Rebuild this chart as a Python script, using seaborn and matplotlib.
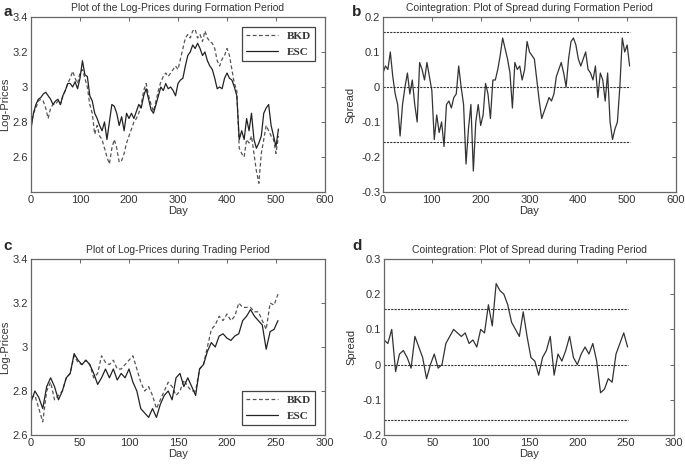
import numpy as np
import pandas as pd
import seaborn as sns
import matplotlib.pyplot as plt
from matplotlib.ticker import FormatStrFormatter

# formation period, read every 5 days
bkd_form = [2.78, 2.85, 2.88, 2.92, 2.93, 2.92, 2.88, 2.82, 2.88, 2.90,
            2.90, 2.92, 2.90, 2.95, 2.98, 3.02, 3.05, 3.09, 3.05, 3.02,
            3.08, 3.10, 3.05, 3.00, 2.90, 2.85, 2.73, 2.78, 2.72, 2.70,
            2.65, 2.60, 2.56, 2.65, 2.70, 2.65, 2.57, 2.58, 2.62, 2.68,
            2.72, 2.76, 2.80, 2.82, 2.85, 2.90, 2.98, 3.02, 2.95, 2.90,
            2.86, 2.92, 2.98, 3.03, 3.06, 3.08, 3.06, 3.08, 3.10, 3.12,
            3.10, 3.16, 3.22, 3.28, 3.30, 3.28, 3.32, 3.33, 3.28, 3.30,
            3.26, 3.32, 3.28, 3.26, 3.25, 3.22, 3.15, 3.12, 3.16, 3.18,
            3.22, 3.18, 3.10, 3.02, 2.98, 2.65, 2.62, 2.60, 2.70, 2.68,
            2.72, 2.62, 2.52, 2.45, 2.62, 2.70, 2.78, 2.75, 2.72, 2.70,
            2.62, 2.72]
esc_form = [2.76, 2.85, 2.90, 2.93, 2.94, 2.96, 2.97, 2.95, 2.93, 2.90,
            2.92, 2.93, 2.90, 2.95, 2.98, 3.02, 3.02, 3.00, 3.03, 2.99,
            3.05, 3.15, 3.07, 3.06, 2.95, 2.92, 2.85, 2.82, 2.78, 2.75,
            2.80, 2.70, 2.80, 2.90, 2.89, 2.85, 2.78, 2.83, 2.75, 2.85,
            2.82, 2.85, 2.82, 2.86, 2.90, 2.88, 2.95, 2.99, 2.93, 2.87,
            2.85, 2.90, 2.95, 3.00, 2.98, 3.02, 2.99, 3.00, 2.98, 2.95,
            3.02, 3.04, 3.05, 3.12, 3.18, 3.20, 3.24, 3.22, 3.25, 3.22,
            3.18, 3.20, 3.15, 3.12, 3.10, 3.05, 2.99, 3.00, 2.99, 3.05,
            3.08, 3.05, 3.04, 3.00, 2.95, 2.70, 2.75, 2.70, 2.82, 2.75,
            2.85, 2.70, 2.65, 2.68, 2.72, 2.85, 2.88, 2.90, 2.78, 2.72,
            2.66, 2.76]
spread_form = [0.04, 0.06, 0.05, 0.10, 0.03, -0.02, -0.05, -0.14, -0.05, 0.00,
               0.04, -0.02, 0.02, -0.05, -0.10, 0.07, 0.05, 0.02, 0.07, 0.03,
               -0.01, -0.15, -0.08, -0.13, -0.10, -0.17, -0.05, -0.04, -0.06, -0.03,
               -0.02, 0.06, 0.00, -0.05, -0.22, -0.12, -0.05, -0.24, -0.10, -0.05,
               -0.11, -0.08, 0.01, -0.02, -0.09, 0.02, 0.02, 0.05, 0.09, 0.14,
               0.11, 0.08, 0.04, -0.06, 0.07, 0.05, 0.06, 0.02, 0.05, 0.13,
               0.10, 0.09, 0.08, 0.02, -0.04, -0.09, -0.07, -0.05, -0.03, -0.04,
               -0.02, 0.03, 0.05, 0.07, 0.04, 0.00, 0.08, 0.13, 0.14, 0.12,
               0.08, 0.06, 0.08, 0.10, 0.05, 0.04, 0.02, 0.06, -0.03, 0.04,
               0.02, -0.04, 0.04, -0.10, -0.15, -0.12, -0.10, 0.00, 0.14, 0.10,
               0.12, 0.06]

# trading period, read every 4 days
bkd_trade = [2.77, 2.78, 2.72, 2.66, 2.80, 2.84, 2.76, 2.78, 2.80, 2.86,
             2.88, 2.96, 2.93, 2.92, 2.94, 2.92, 2.86, 2.88, 2.96, 2.93,
             2.92, 2.94, 2.90, 2.90, 2.92, 2.94, 2.96, 2.90, 2.84, 2.80,
             2.82, 2.78, 2.72, 2.76, 2.80, 2.84, 2.82, 2.78, 2.80, 2.85,
             2.82, 2.80, 2.80, 2.90, 2.92, 3.00, 3.08, 3.10, 3.14, 3.12,
             3.15, 3.12, 3.14, 3.20, 3.18, 3.18, 3.18, 3.16, 3.16, 3.12,
             3.08, 3.20, 3.19, 3.24]
esc_trade = [2.75, 2.80, 2.77, 2.72, 2.82, 2.86, 2.82, 2.76, 2.80, 2.86,
             2.88, 2.97, 2.94, 2.92, 2.94, 2.92, 2.88, 2.83, 2.86, 2.90,
             2.86, 2.90, 2.85, 2.88, 2.86, 2.90, 2.84, 2.80, 2.72, 2.70,
             2.68, 2.72, 2.68, 2.74, 2.78, 2.80, 2.76, 2.86, 2.88, 2.82,
             2.86, 2.82, 2.78, 2.90, 2.92, 2.98, 3.02, 3.00, 3.05, 3.06,
             3.04, 3.03, 3.05, 3.06, 3.12, 3.14, 3.17, 3.14, 3.12, 3.10,
             2.99, 3.07, 3.08, 3.12]
spread_trade = [0.07, 0.06, 0.10, -0.02, 0.03, 0.04, 0.02, -0.01, 0.08, 0.05,
                0.02, -0.04, 0.00, 0.03, -0.01, 0.00, 0.06, 0.08, 0.10, 0.09,
                0.08, 0.09, 0.06, 0.07, 0.05, 0.10, 0.09, 0.17, 0.11, 0.23,
                0.21, 0.20, 0.17, 0.12, 0.10, 0.08, 0.15, 0.08, 0.02, 0.01,
                -0.03, 0.02, 0.04, 0.08, -0.03, 0.03, 0.01, 0.04, 0.08, 0.02,
                0.00, 0.03, 0.05, 0.03, 0.06, 0.01, -0.08, -0.07, -0.04, -0.05,
                0.03, 0.06, 0.09, 0.05]

thresholds = [0.157, 0.0, -0.157]

form = pd.DataFrame({'Day': np.arange(len(esc_form)) * 5, 'BKD': bkd_form,
                     'ESC': esc_form, 'Spread': spread_form})
trade = pd.DataFrame({'Day': np.arange(len(esc_trade)) * 4, 'BKD': bkd_trade,
                      'ESC': esc_trade, 'Spread': spread_trade})

sns.set_style('white')
plt.rcParams['font.family'] = ['Liberation Sans', 'DejaVu Sans']
plt.rcParams['font.size'] = 8
plt.rcParams['axes.edgecolor'] = '#666666'
plt.rcParams['axes.linewidth'] = 0.9

fig = plt.figure(figsize=(6.85, 4.65), dpi=100)
ax_a = fig.add_axes([31 / 685, 1 - 192 / 465, 294 / 685, 175 / 465])
ax_b = fig.add_axes([383 / 685, 1 - 192 / 465, 293 / 685, 175 / 465])
ax_c = fig.add_axes([31 / 685, 1 - 435 / 465, 294 / 685, 176 / 465])
ax_d = fig.add_axes([384 / 685, 1 - 435 / 465, 290 / 685, 176 / 465])

line_kw = dict(linewidth=0.9)


def prices(ax, df, title, loc):
    sns.lineplot(data=df, x='Day', y='BKD', ax=ax, color='#555555',
                 linestyle=(0, (3, 2)), label='BKD', **line_kw)
    sns.lineplot(data=df, x='Day', y='ESC', ax=ax, color='#222222',
                 label='ESC', **line_kw)
    ax.set_ylabel('Log-Prices', labelpad=2)
    ax.set_title(title, fontsize=7.5, pad=4)
    leg = ax.legend(loc=loc, prop={'family': 'Liberation Serif', 'size': 8,
                                   'weight': 'bold'},
                    fancybox=False, edgecolor='#444444', framealpha=1,
                    handlelength=2.8, borderaxespad=0.9)
    leg.get_frame().set_linewidth(0.9)
    for t in leg.get_texts():
        t.set_color('#333333')


def spread(ax, df, title):
    sns.lineplot(data=df, x='Day', y='Spread', ax=ax, color='#333333', **line_kw)
    ax.hlines(thresholds, df['Day'].min(), df['Day'].max(), colors='#333333',
              linestyles=(0, (2, 1)), linewidth=0.8)
    ax.set_ylabel('Spread', labelpad=4)
    ax.set_title(title, fontsize=7.5, pad=4)


prices(ax_a, form, 'Plot of the Log-Prices during Formation Period', 'upper right')
prices(ax_c, trade, 'Plot of Log-Prices during Trading Period', 'lower right')
spread(ax_b, form, 'Cointegration: Plot of Spread during Formation Period')
spread(ax_d, trade, 'Cointegration: Plot of Spread during Trading Period')

ax_a.set_xlim(0, 600)
ax_a.set_ylim(2.4, 3.4)
ax_a.set_yticks([2.6, 2.8, 3.0, 3.2, 3.4])
ax_b.set_xlim(0, 600)
ax_b.set_ylim(-0.3, 0.2)
ax_b.set_yticks([-0.3, -0.2, -0.1, 0, 0.1, 0.2])
ax_c.set_xlim(0, 300)
ax_c.set_ylim(2.6, 3.4)
ax_c.set_yticks([2.6, 2.8, 3.0, 3.2, 3.4])
ax_d.set_xlim(0, 300)
ax_d.set_ylim(-0.2, 0.3)
ax_d.set_yticks([-0.2, -0.1, 0, 0.1, 0.2, 0.3])

for ax in [ax_a, ax_b, ax_c, ax_d]:
    ax.set_xlabel('Day', labelpad=1)
    ax.yaxis.set_major_formatter(FormatStrFormatter('%g'))
    ax.tick_params(direction='in', top=True, right=True, length=3,
                   width=0.7, colors='#666666', labelcolor='#333333',
                   labelsize=8, pad=2)
    ax.xaxis.label.set_color('#333333')
    ax.yaxis.label.set_color('#333333')
    ax.title.set_color('#333333')

for x, y, s in [(3, 12, 'a'), (352, 12, 'b'), (3, 246, 'c'), (352, 246, 'd')]:
    fig.text(x / 685, 1 - y / 465, s, fontsize=11, fontweight='bold',
             family='Liberation Sans', va='center', ha='left')

fig.savefig('out.png', dpi=100)
